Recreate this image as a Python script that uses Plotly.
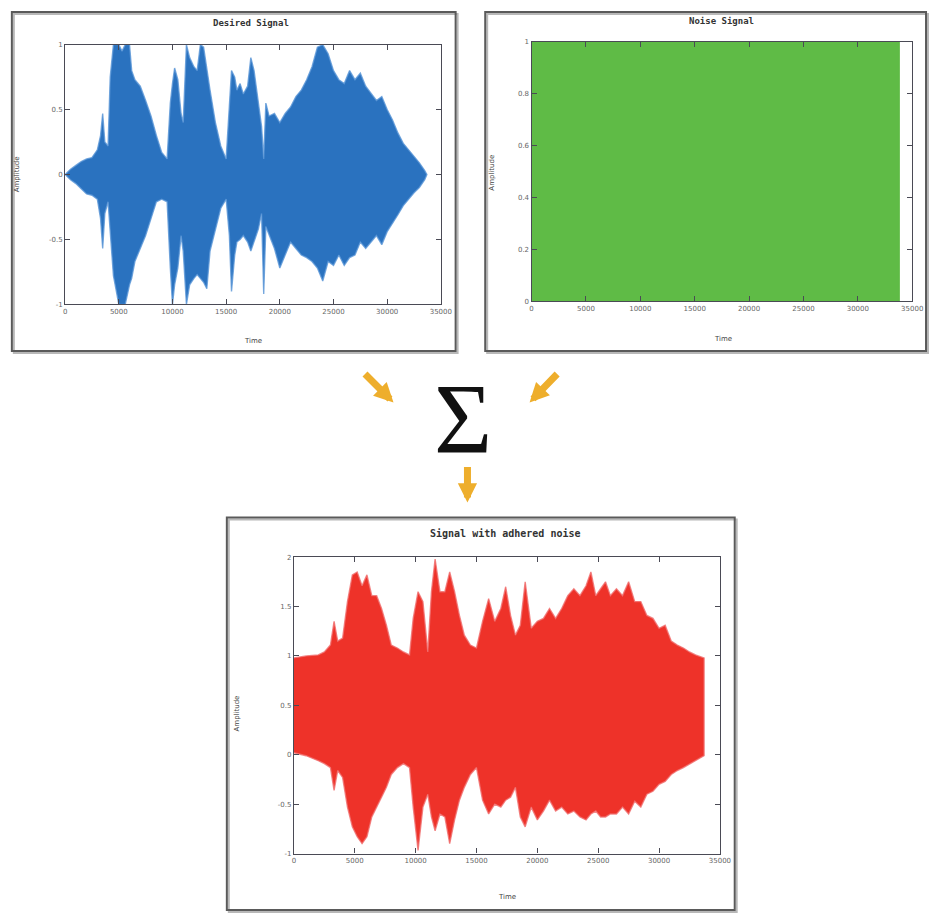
import plotly.graph_objects as go

# ---------------- data ----------------
# Desired (speech-like) signal: upper / lower envelope of the waveform over time
desired_t = [0, 500, 1000, 1500, 2000, 2500, 3000, 3300, 3500, 3700, 4000, 4200, 4500, 5000,
             5300, 5600, 6000, 6200, 6500, 7000, 7500, 8000, 8500, 9000, 9500, 9800, 10000,
             10200, 10500, 10800, 11000, 11300, 11600, 12000, 12300, 12600, 12900, 13200,
             13500, 14000, 14500, 15000, 15300, 15500, 15800, 16000, 16300, 16600, 17000,
             17300, 17600, 18000, 18300, 18500, 18700, 19000, 19500, 20000, 20500, 21000,
             21500, 22000, 22500, 23000, 23500, 24000, 24500, 25000, 25500, 26000, 26500,
             27000, 27500, 28000, 28500, 29000, 29500, 30000, 30500, 31000, 31500, 32000,
             32500, 33000, 33500, 33700]
desired_upper = [0, 0.04, 0.07, 0.10, 0.12, 0.13, 0.19, 0.30, 0.47, 0.25, 0.22, 0.75, 1.0, 1.0,
                 0.95, 1.0, 1.0, 0.80, 0.73, 0.68, 0.57, 0.45, 0.30, 0.17, 0.12, 0.55, 0.70,
                 0.82, 0.73, 0.47, 0.40, 1.0, 0.90, 0.83, 0.80, 1.0, 0.98, 0.80,
                 0.65, 0.40, 0.22, 0.12, 0.55, 0.80, 0.75, 0.65, 0.70, 0.62, 0.68,
                 0.90, 0.80, 0.55, 0.37, 0.12, 0.55, 0.45, 0.47, 0.40, 0.47, 0.52,
                 0.60, 0.65, 0.73, 0.83, 0.98, 1.0, 0.93, 0.80, 0.73, 0.70, 0.80,
                 0.73, 0.78, 0.68, 0.62, 0.57, 0.60, 0.50, 0.42, 0.32, 0.24, 0.19,
                 0.14, 0.09, 0.03, 0]
desired_lower = [0, -0.04, -0.07, -0.11, -0.15, -0.16, -0.19, -0.34, -0.57, -0.30, -0.21, -0.47,
                 -0.78, -1.0, -1.0, -1.0, -0.85, -0.80, -0.67, -0.57, -0.47, -0.34, -0.21, -0.19,
                 -0.21, -0.72, -1.0, -0.85, -0.72, -0.47, -0.59, -1.0, -0.85, -0.80, -0.77,
                 -0.80, -0.83, -0.88, -0.59, -0.42, -0.26, -0.19, -0.47, -0.90, -0.62, -0.52,
                 -0.50, -0.47, -0.52, -0.59, -0.52, -0.42, -0.30, -0.92, -0.40, -0.47, -0.57,
                 -0.72, -0.62, -0.52, -0.57, -0.62, -0.64, -0.67, -0.72, -0.82, -0.67, -0.70,
                 -0.62, -0.70, -0.64, -0.62, -0.52, -0.57, -0.52, -0.47, -0.54, -0.44, -0.37,
                 -0.31, -0.24, -0.19, -0.14, -0.10, -0.04, 0]

# Noise signal: fills the band 0..1 over the whole record
noise_t = [0, 5000, 10000, 15000, 20000, 25000, 30000, 33800]
noise_upper = [1.0, 1.0, 1.0, 1.0, 1.0, 1.0, 1.0, 1.0]
noise_lower = [0.0, 0.0, 0.0, 0.0, 0.0, 0.0, 0.0, 0.0]

# Signal with adhered noise: upper / lower envelope
mixed_t = [0, 1000, 2000, 2500, 3000, 3300, 3600, 4000, 4400, 4800, 5200, 5600, 6000, 6400,
           6800, 7200, 7600, 8000, 8500, 9000, 9500, 9800, 10200, 10600, 11000, 11300, 11600,
           12000, 12400, 12800, 13200, 13600, 14000, 14500, 15000, 15500, 16000, 16500,
           17000, 17400, 17800, 18200, 18600, 19000, 19500, 20000, 20500, 21000, 21500,
           22000, 22500, 23000, 23500, 24000, 24400, 24800, 25200, 25600, 26000, 26500,
           27000, 27500, 28000, 28500, 29000, 29500, 30000, 30500, 31000, 31500, 32000,
           32500, 33000, 33700]
mixed_upper = [0.98, 1.0, 1.01, 1.04, 1.11, 1.35, 1.15, 1.18, 1.55, 1.82, 1.85, 1.71, 1.82, 1.61,
               1.61, 1.48, 1.31, 1.11, 1.08, 1.04, 1.01, 1.38, 1.65, 1.55, 1.04, 1.65, 1.98,
               1.65, 1.65, 1.85, 1.65, 1.41, 1.21, 1.11, 1.08, 1.35, 1.58, 1.35,
               1.48, 1.70, 1.41, 1.21, 1.31, 1.75, 1.28, 1.35, 1.38, 1.48, 1.38,
               1.48, 1.61, 1.68, 1.61, 1.71, 1.85, 1.61, 1.68, 1.75, 1.61, 1.68,
               1.61, 1.75, 1.55, 1.55, 1.41, 1.38, 1.28, 1.31, 1.15, 1.11, 1.08,
               1.04, 1.01, 0.98]
mixed_lower = [0.02, -0.01, -0.06, -0.09, -0.13, -0.36, -0.16, -0.23, -0.53, -0.73, -0.83, -0.90,
               -0.83, -0.63, -0.53, -0.43, -0.33, -0.20, -0.13, -0.09, -0.13, -0.53, -0.97,
               -0.53, -0.40, -0.63, -0.77, -0.60, -0.63, -0.90, -0.66, -0.46, -0.33, -0.20,
               -0.13, -0.46, -0.60, -0.50, -0.53, -0.46, -0.43, -0.33, -0.63, -0.73, -0.53,
               -0.66, -0.57, -0.46, -0.57, -0.53, -0.60, -0.57, -0.63, -0.66, -0.60, -0.57,
               -0.63, -0.63, -0.60, -0.60, -0.53, -0.60, -0.47, -0.53, -0.40, -0.37, -0.30,
               -0.27, -0.20, -0.16, -0.13, -0.10, -0.06, -0.01]

time_ticks = [0, 5000, 10000, 15000, 20000, 25000, 30000, 35000]
time_labels = ["0", "5000", "10000", "15000", "20000", "25000", "30000", "35000"]
desired_yticks = [-1, -0.5, 0, 0.5, 1]
desired_ylabels = ["-1", "-0.5", "0", "0.5", "1"]
noise_yticks = [0, 0.2, 0.4, 0.6, 0.8, 1]
noise_ylabels = ["0", "0.2", "0.4", "0.6", "0.8", "1"]
mixed_yticks = [-1, -0.5, 0, 0.5, 1, 1.5, 2]
mixed_ylabels = ["-1", "-0.5", "0", "0.5", "1", "1.5", "2"]

# ---------------- layout helpers ----------------
W, H = 939, 916


def px(x):
    return x / W


def py(y):
    return 1 - y / H


BLUE = "#2a72bf"
BLUE_EDGE = "rgba(90,150,215,0.8)"
GREEN = "#5fbb46"
RED = "#ee3229"
RED_EDGE = "rgba(240,110,110,0.8)"
ARROW = "#eeae2c"
AXIS = "#4a4a55"
TICKTXT = "#666666"

fig = go.Figure()


def band(t, up, low, color, edge, xa, ya):
    fig.add_trace(go.Scatter(
        x=list(t) + list(t)[::-1],
        y=list(up) + list(low)[::-1],
        fill="toself", fillcolor=color, mode="lines",
        line=dict(color=edge, width=1.4),
        xaxis=xa, yaxis=ya, hoverinfo="skip", showlegend=False,
    ))


band(desired_t, desired_upper, desired_lower, BLUE, BLUE_EDGE, "x", "y")
band(noise_t, noise_upper, noise_lower, GREEN, GREEN, "x2", "y2")
band(mixed_t, mixed_upper, mixed_lower, RED, RED_EDGE, "x3", "y3")

axis_common = dict(
    showgrid=False, zeroline=False, showline=True, linecolor=AXIS, linewidth=1.2,
    mirror="allticks", ticks="inside", ticklen=5, tickcolor=AXIS, tickwidth=1.2,
    tickfont=dict(family="DejaVu Sans", size=7, color=TICKTXT), fixedrange=True,
)

fig.update_layout(
    width=W, height=H, margin=dict(l=0, r=0, t=0, b=0),
    paper_bgcolor="white", plot_bgcolor="white", showlegend=False,
    xaxis=dict(domain=[px(64), px(445)], range=[0, 35000], tickvals=time_ticks,
               ticktext=time_labels, anchor="y", **axis_common),
    yaxis=dict(domain=[py(303), py(41)], range=[-1, 1], tickvals=desired_yticks,
               ticktext=desired_ylabels, anchor="x", **axis_common),
    xaxis2=dict(domain=[px(537), px(923)], range=[0, 35000], tickvals=time_ticks,
                ticktext=time_labels, anchor="y2", **axis_common),
    yaxis2=dict(domain=[py(300), py(38)], range=[0, 1], tickvals=noise_yticks,
                ticktext=noise_ylabels, anchor="x2", **axis_common),
    xaxis3=dict(domain=[px(296), px(728)], range=[0, 35000], tickvals=time_ticks,
                ticktext=time_labels, anchor="y3", **axis_common),
    yaxis3=dict(domain=[py(857), py(558)], range=[-1, 2], tickvals=mixed_yticks,
                ticktext=mixed_ylabels, anchor="x3", **axis_common),
)

# panel frames with a soft drop shadow
shapes = []
for (x0, y0, x1, y1) in [(10, 8, 460, 350), (490, 8, 937, 350), (228, 518, 743, 914)]:
    shapes.append(dict(type="rect", xref="paper", yref="paper",
                       x0=px(x0 + 2), x1=px(x1 + 2), y0=py(y1 + 2), y1=py(y0 + 2),
                       line=dict(color="#b8b8b8", width=2), layer="below"))
    shapes.append(dict(type="rect", xref="paper", yref="paper",
                       x0=px(x0), x1=px(x1), y0=py(y1), y1=py(y0),
                       line=dict(color="#5a5a5a", width=2), layer="above"))
fig.update_layout(shapes=shapes)

ann = []
title_font = dict(family="DejaVu Sans Mono", size=9, color="#333333")
label_font = dict(family="DejaVu Sans", size=7, color="#444444")


def text(x, y, s, font, angle=0):
    ann.append(dict(x=px(x), y=py(y), xref="paper", yref="paper", text=s,
                    showarrow=False, font=font, textangle=angle,
                    xanchor="center", yanchor="middle"))


text(253, 19, "<b>Desired Signal</b>", title_font)
text(730, 17, "<b>Noise Signal</b>", title_font)
text(511, 534, "<b>Signal with adhered noise</b>", dict(title_font, size=10))

text(255, 340, "Time", label_font)
text(731, 338, "Time", label_font)
text(512, 901, "Time", label_font)

text(16, 172, "Amplitude", label_font, -90)
text(496, 170, "Amplitude", label_font, -90)
text(238, 716, "Amplitude", label_font, -90)

# summation symbol
text(467, 418, "Σ", dict(family="Liberation Serif", size=100, color="#111111"))

# arrows feeding into / out of the summation
for (hx, hy, dx, dy) in [(397, 402, -30, -30), (535, 402, 29, -30), (472, 503, 0, -37)]:
    ann.append(dict(x=px(hx), y=py(hy), xref="paper", yref="paper", text="",
                    showarrow=True, ax=dx, ay=dy, arrowhead=2, arrowsize=0.55,
                    arrowwidth=7, arrowcolor=ARROW))

fig.update_layout(annotations=ann)

fig.write_html("out.html")
